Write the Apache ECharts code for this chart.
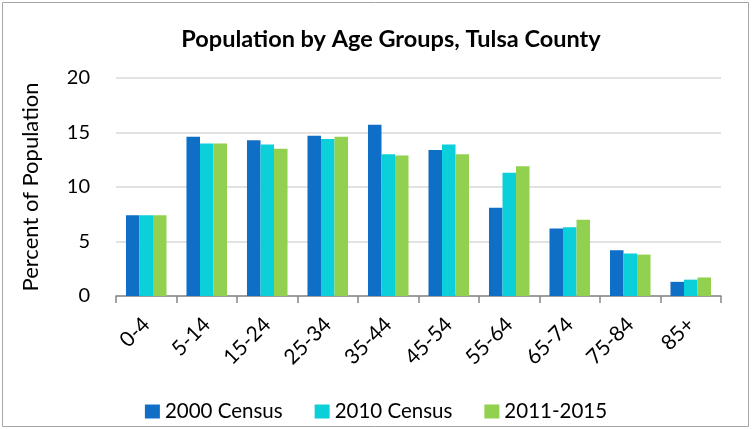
<!DOCTYPE html>
<html>
<head>
<meta charset="utf-8">
<script src="https://cdn.jsdelivr.net/npm/echarts@6/dist/echarts.min.js"></script>
<style>
  html, body { margin: 0; padding: 0; background: #fff; }
  #chart { width: 752px; height: 429px; }
</style>
</head>
<body>
<div id="chart"></div>
<script>
var ageGroups = ['0-4', '5-14', '15-24', '25-34', '35-44', '45-54', '55-64', '65-74', '75-84', '85+'];
var census2000 = [7.4, 14.6, 14.3, 14.7, 15.7, 13.4, 8.1, 6.2, 4.2, 1.3];
var census2010 = [7.4, 14.0, 13.9, 14.4, 13.0, 13.9, 11.3, 6.3, 3.9, 1.5];
var acs2011 = [7.4, 14.0, 13.5, 14.6, 12.9, 13.0, 11.9, 7.0, 3.8, 1.7];

var font = 'Lato, "Open Sans", sans-serif';

var chart = echarts.init(document.getElementById('chart'));
chart.setOption({
  animation: false,
  textStyle: { fontFamily: font },
  graphic: [{
    type: 'rect',
    shape: { x: 2.5, y: 2.5, width: 746, height: 424 },
    style: { fill: 'none', stroke: '#a6a6a6', lineWidth: 1 },
    silent: true
  }],
  title: {
    text: 'Population by Age Groups, Tulsa County',
    left: 386, top: 22, textAlign: 'center',
    textStyle: { fontFamily: font, fontWeight: 'bold', fontSize: 23.5, color: '#000' }
  },
  legend: {
    top: 396, left: 'center',
    itemWidth: 15, itemHeight: 14, itemGap: 32,
    icon: 'rect',
    textStyle: { fontFamily: font, fontSize: 20.5, color: '#000' },
    data: ['2000 Census', '2010 Census', '2011-2015']
  },
  grid: { left: 116, right: 31, top: 78, bottom: 133 },
  xAxis: {
    type: 'category',
    data: ageGroups,
    axisLine: { lineStyle: { color: '#868686', width: 1.5 } },
    axisTick: { show: true, length: 7, lineStyle: { color: '#868686', width: 1.5 } },
    axisLabel: { rotate: 45, margin: 25, fontSize: 21, color: '#000', fontFamily: font }
  },
  yAxis: {
    type: 'value',
    min: 0, max: 20, interval: 5,
    name: 'Percent of Population',
    nameLocation: 'middle', nameGap: 74,
    nameTextStyle: { fontSize: 22, color: '#000', fontFamily: font },
    axisLine: { show: false },
    axisTick: { show: false },
    axisLabel: { fontSize: 20, color: '#000', margin: 26, fontFamily: font },
    splitLine: { lineStyle: { color: '#d9d9d9', width: 1.5 } }
  },
  series: [
    { name: '2000 Census', type: 'bar', data: census2000, barGap: '0%', barCategoryGap: '33%',
      itemStyle: { color: '#0f6fc6' } },
    { name: '2010 Census', type: 'bar', data: census2010, barGap: '0%', barCategoryGap: '33%',
      itemStyle: { color: '#0bd0d9' } },
    { name: '2011-2015', type: 'bar', data: acs2011, barGap: '0%', barCategoryGap: '33%',
      itemStyle: { color: '#92d050' } }
  ]
});
</script>
</body>
</html>
